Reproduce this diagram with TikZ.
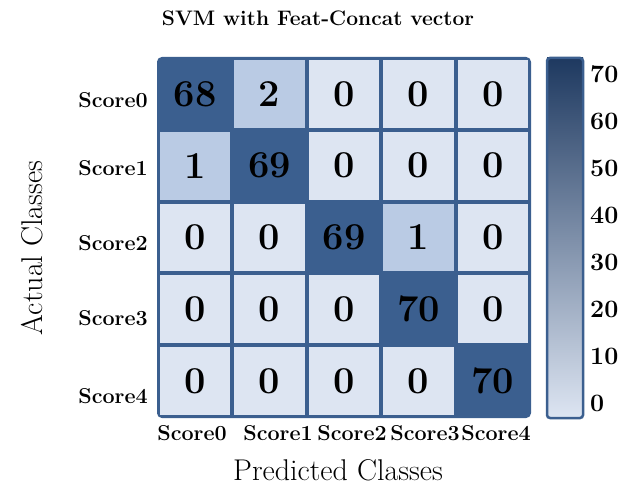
\documentclass[tikz,border=0pt]{standalone}
\usepackage{tikz}
\usepackage{color}

\definecolor{cmdark}{RGB}{59,95,143}
\definecolor{cmmid}{RGB}{186,203,228}
\definecolor{cmlight}{RGB}{221,229,242}
\definecolor{cmtop}{RGB}{30,57,96}

\begin{document}
\begin{tikzpicture}[x=1pt, y=-1pt,
    cellbox/.style={rectangle,inner sep=0pt,minimum width=70.4pt,minimum height=67.8pt,font=\bfseries\fontsize{38}{38}\selectfont},
    scorelab/.style={font=\bfseries\fontsize{21.5}{21.5}\selectfont},
    ticklab/.style={anchor=west,inner sep=0pt,font=\bfseries\fontsize{25}{25}\selectfont},
    axislab/.style={font=\fontsize{30}{30}\selectfont}]

    \useasboundingbox (0,0) rectangle (624,486);

    \node[font=\bfseries\fontsize{21}{21}\selectfont] (title) at (318,18) {SVM with Feat-Concat vector};

    % matrix frame
    \draw[cmdark, fill=cmdark, line width=2pt, rounded corners=4pt] (158,58) rectangle (530,417);

    % row 1
    \node[cellbox,fill=cmdark] (c11) at (195.2,93.9) {68};
    \node[cellbox,fill=cmmid] (c12) at (269.6,93.9) {2};
    \node[cellbox,fill=cmlight] (c13) at (344,93.9) {0};
    \node[cellbox,fill=cmlight] (c14) at (418.4,93.9) {0};
    \node[cellbox,fill=cmlight] (c15) at (492.8,93.9) {0};
    % row 2
    \node[cellbox,fill=cmmid] (c21) at (195.2,165.7) {1};
    \node[cellbox,fill=cmdark] (c22) at (269.6,165.7) {69};
    \node[cellbox,fill=cmlight] (c23) at (344,165.7) {0};
    \node[cellbox,fill=cmlight] (c24) at (418.4,165.7) {0};
    \node[cellbox,fill=cmlight] (c25) at (492.8,165.7) {0};
    % row 3
    \node[cellbox,fill=cmlight] (c31) at (195.2,237.5) {0};
    \node[cellbox,fill=cmlight] (c32) at (269.6,237.5) {0};
    \node[cellbox,fill=cmdark] (c33) at (344,237.5) {69};
    \node[cellbox,fill=cmmid] (c34) at (418.4,237.5) {1};
    \node[cellbox,fill=cmlight] (c35) at (492.8,237.5) {0};
    % row 4
    \node[cellbox,fill=cmlight] (c41) at (195.2,309.3) {0};
    \node[cellbox,fill=cmlight] (c42) at (269.6,309.3) {0};
    \node[cellbox,fill=cmlight] (c43) at (344,309.3) {0};
    \node[cellbox,fill=cmdark] (c44) at (418.4,309.3) {70};
    \node[cellbox,fill=cmlight] (c45) at (492.8,309.3) {0};
    % row 5
    \node[cellbox,fill=cmlight] (c51) at (195.2,381.1) {0};
    \node[cellbox,fill=cmlight] (c52) at (269.6,381.1) {0};
    \node[cellbox,fill=cmlight] (c53) at (344,381.1) {0};
    \node[cellbox,fill=cmlight] (c54) at (418.4,381.1) {0};
    \node[cellbox,fill=cmdark] (c55) at (492.8,381.1) {70};

    % row labels
    \node[scorelab] (r1) at (113,100) {Score0};
    \node[scorelab] (r2) at (113,168) {Score1};
    \node[scorelab] (r3) at (113,243) {Score2};
    \node[scorelab] (r4) at (113,318) {Score3};
    \node[scorelab] (r5) at (113,396) {Score4};

    % column labels
    \node[scorelab] (p1) at (192,433) {Score0};
    \node[scorelab] (p2) at (278,433) {Score1};
    \node[scorelab] (p3) at (352,433) {Score2};
    \node[scorelab] (p4) at (425,433) {Score3};
    \node[scorelab] (p5) at (496,433) {Score4};

    \node[axislab,rotate=90] (actual) at (32,248) {Actual Classes};
    \node[axislab] (predicted) at (338,470) {Predicted Classes};

    % colour bar
    \shade[top color=cmtop, bottom color=cmlight] (547,58) rectangle (583,418);
    \draw[cmdark, line width=2.5pt, rounded corners=3pt] (547,58) rectangle (583,418);
    \node[ticklab] (t0) at (590,403) {0};
    \node[ticklab] (t1) at (590,356) {10};
    \node[ticklab] (t2) at (590,309.8) {20};
    \node[ticklab] (t3) at (590,262.7) {30};
    \node[ticklab] (t4) at (590,215.6) {40};
    \node[ticklab] (t5) at (590,168.5) {50};
    \node[ticklab] (t6) at (590,121.4) {60};
    \node[ticklab] (t7) at (590,74.3) {70};

\end{tikzpicture}
\end{document}
